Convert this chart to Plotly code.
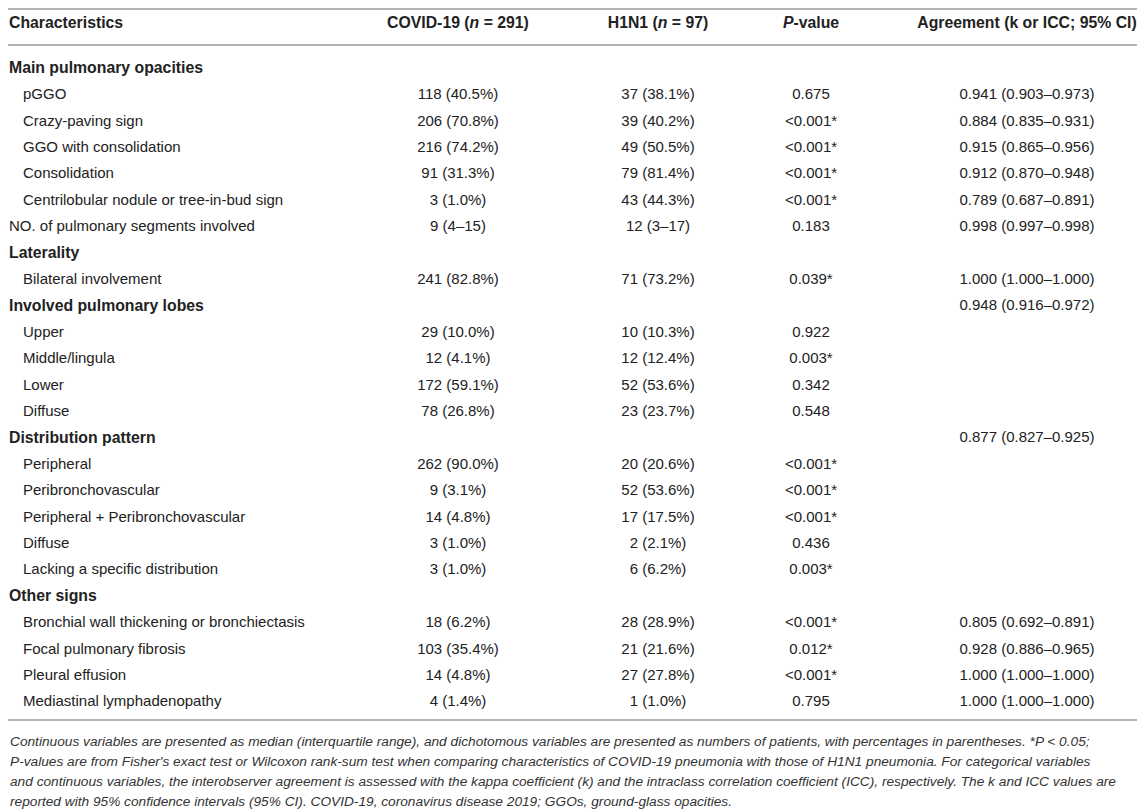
import plotly.graph_objects as go

headers = ["Characteristics", "COVID-19 (<i>n</i> = 291)", "H1N1 (<i>n</i> = 97)",
           "<i>P</i>-value", "Agreement (k or ICC; 95% CI)"]

labels = ["Main pulmonary opacities", "pGGO", "Crazy-paving sign", "GGO with consolidation",
          "Consolidation", "Centrilobular nodule or tree-in-bud sign",
          "NO. of pulmonary segments involved", "Laterality", "Bilateral involvement",
          "Involved pulmonary lobes", "Upper", "Middle/lingula", "Lower", "Diffuse",
          "Distribution pattern", "Peripheral", "Peribronchovascular",
          "Peripheral + Peribronchovascular", "Diffuse", "Lacking a specific distribution",
          "Other signs", "Bronchial wall thickening or bronchiectasis",
          "Focal pulmonary fibrosis", "Pleural effusion", "Mediastinal lymphadenopathy"]
# s = section heading, i = indented item, p = plain item
kinds = ["s", "i", "i", "i", "i", "i", "p", "s", "i", "s", "i", "i", "i", "i",
         "s", "i", "i", "i", "i", "i", "s", "i", "i", "i", "i"]

covid = ["", "118 (40.5%)", "206 (70.8%)", "216 (74.2%)", "91 (31.3%)", "3 (1.0%)",
         "9 (4–15)", "", "241 (82.8%)", "", "29 (10.0%)", "12 (4.1%)", "172 (59.1%)",
         "78 (26.8%)", "", "262 (90.0%)", "9 (3.1%)", "14 (4.8%)", "3 (1.0%)", "3 (1.0%)",
         "", "18 (6.2%)", "103 (35.4%)", "14 (4.8%)", "4 (1.4%)"]
h1n1 = ["", "37 (38.1%)", "39 (40.2%)", "49 (50.5%)", "79 (81.4%)", "43 (44.3%)",
        "12 (3–17)", "", "71 (73.2%)", "", "10 (10.3%)", "12 (12.4%)", "52 (53.6%)",
        "23 (23.7%)", "", "20 (20.6%)", "52 (53.6%)", "17 (17.5%)", "2 (2.1%)", "6 (6.2%)",
        "", "28 (28.9%)", "21 (21.6%)", "27 (27.8%)", "1 (1.0%)"]
pvals = ["", "0.675", "<0.001*", "<0.001*", "<0.001*", "<0.001*", "0.183", "", "0.039*",
         "", "0.922", "0.003*", "0.342", "0.548", "", "<0.001*", "<0.001*", "<0.001*",
         "0.436", "0.003*", "", "<0.001*", "0.012*", "<0.001*", "0.795"]
agreement = ["", "0.941 (0.903–0.973)", "0.884 (0.835–0.931)", "0.915 (0.865–0.956)",
             "0.912 (0.870–0.948)", "0.789 (0.687–0.891)", "0.998 (0.997–0.998)", "",
             "1.000 (1.000–1.000)", "0.948 (0.916–0.972)", "", "", "", "",
             "0.877 (0.827–0.925)", "", "", "", "", "", "",
             "0.805 (0.692–0.891)", "0.928 (0.886–0.965)", "1.000 (1.000–1.000)",
             "1.000 (1.000–1.000)"]

footnote = [
    "Continuous variables are presented as median (interquartile range), and dichotomous variables are presented as numbers of patients, with percentages in parentheses. *P < 0.05;",
    "P-values are from Fisher's exact test or Wilcoxon rank-sum test when comparing characteristics of COVID-19 pneumonia with those of H1N1 pneumonia. For categorical variables",
    "and continuous variables, the interobserver agreement is assessed with the kappa coefficient (k) and the intraclass correlation coefficient (ICC), respectively. The k and ICC values are",
    "reported with 95% confidence intervals (95% CI). COVID-19, coronavirus disease 2019; GGOs, ground-glass opacities.",
]

# the page body has an 8px margin, so the axes run in window pixels from 8 on
PAD = 8
W, H = 1145, 812
FONT = "Liberation Sans, Arial, sans-serif"
TXT = "#222222"
RULE = "#b4b4b4"
col_x = [9, 458, 658, 811, 1027]
row_y = [69 + i * 26.4 for i in range(len(labels))]
head_y = 24

fig = go.Figure()

left_text = [f"<b>{t}</b>" if k == "s" else t for t, k in zip(labels, kinds)]
left_x = [23 if k == "i" else col_x[0] for k in kinds]
left_size = [15.8 if k == "s" else 15 for k in kinds]
fig.add_trace(go.Scatter(x=left_x, y=row_y, text=left_text, mode="text",
                         textposition="middle right", hoverinfo="skip", cliponaxis=False,
                         textfont=dict(family=FONT, size=left_size, color=TXT)))

for cx, vals in zip(col_x[1:], [covid, h1n1, pvals, agreement]):
    fig.add_trace(go.Scatter(x=[cx] * len(vals), y=row_y, text=vals, mode="text",
                             textposition="middle center", hoverinfo="skip", cliponaxis=False,
                             textfont=dict(family=FONT, size=15, color=TXT)))

fig.add_trace(go.Scatter(x=[col_x[0]], y=[head_y], text=[f"<b>{headers[0]}</b>"], mode="text",
                         textposition="middle right", hoverinfo="skip", cliponaxis=False,
                         textfont=dict(family=FONT, size=15.8, color=TXT)))
fig.add_trace(go.Scatter(x=col_x[1:], y=[head_y] * 4, text=[f"<b>{h}</b>" for h in headers[1:]],
                         mode="text", textposition="middle center", hoverinfo="skip",
                         cliponaxis=False,
                         textfont=dict(family=FONT, size=15.8, color=TXT)))

for yy in [9, 45, 720]:
    fig.add_shape(type="line", x0=PAD, x1=W, y0=yy, y1=yy, xref="x", yref="y",
                  line=dict(color=RULE, width=2))

for i, line in enumerate(footnote):
    fig.add_annotation(x=PAD, y=741 + i * 20.3, xref="x", yref="y", text=f"<i>{line}</i>",
                       showarrow=False, xanchor="left", yanchor="middle",
                       font=dict(family=FONT, size=13.7, color="#333333"))

fig.update_layout(width=W - PAD, height=H - PAD, margin=dict(l=0, r=0, t=0, b=0),
                  paper_bgcolor="white", plot_bgcolor="white", showlegend=False,
                  xaxis=dict(range=[PAD, W], visible=False, fixedrange=True),
                  yaxis=dict(range=[H, PAD], visible=False, fixedrange=True))

fig.write_html("out.html")
